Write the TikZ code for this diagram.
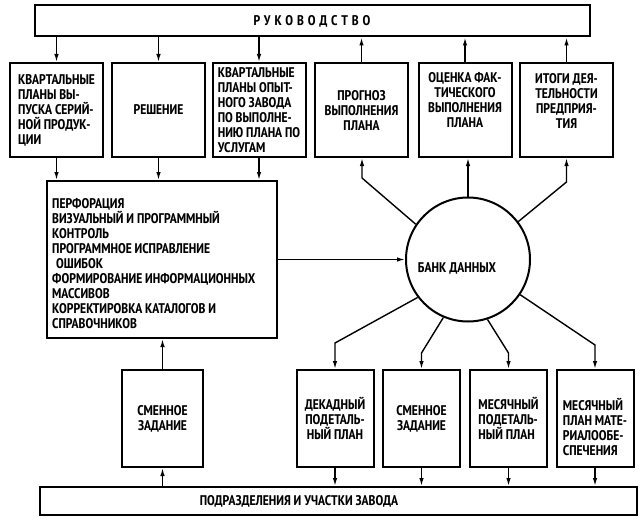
\documentclass[tikz,border=0pt]{standalone}
\usepackage{fontspec}
\setmainfont{PT Sans Narrow}
\usetikzlibrary{arrows.meta}

\tikzset{
  box/.style={draw, line width=2pt, inner sep=0pt,
    font=\bfseries\fontsize{14}{15}\selectfont},
  lbl/.style={inner sep=0pt, font=\bfseries\fontsize{14}{15}\selectfont},
  arr/.style={line width=1.4pt, -{Latex[length=8pt,width=4.5pt]}},
  topbox/.style={box, minimum width=93pt, minimum height=94pt},
  lowbox/.style={box, minimum width=77pt, minimum height=97pt},
}

\begin{document}
\begin{tikzpicture}[x=1pt,y=-1pt]
\useasboundingbox (0,0) rectangle (640,519);

% management strip
\node[box, minimum width=555pt, minimum height=31pt] (R) at (312.5,21) {};
\node[lbl] (Rt) at (312,21) {\addfontfeatures{LetterSpace=28}РУКОВОДСТВО};

% upper row of documents
\node[topbox, align=left] (B1) at (56.5,110)
  {КВАРТАЛЬНЫЕ\\ПЛАНЫ ВЫ-\\ПУСКА СЕРИЙ-\\НОЙ ПРОДУК-\\ЦИИ};
\node[topbox] (B2) at (158.5,110) {РЕШЕНИЕ};
\node[topbox, align=left] (B3) at (259,110)
  {КВАРТАЛЬНЫЕ\\ПЛАНЫ ОПЫТ-\\НОГО ЗАВОДА\\ПО ВЫПОЛНЕ-\\НИЮ ПЛАНА ПО\\УСЛУГАМ};
\node[topbox] (B4) at (361.5,110) {};
\node[lbl, align=center] (B4t) at (361.5,111) {ПРОГНОЗ\\ВЫПОЛНЕНИЯ\\ПЛАНА};
\node[topbox] (B5) at (465,110) {};
\node[lbl, align=center] (B5t) at (465,100) {ОЦЕНКА ФАК-\\ТИЧЕСКОГО\\ВЫПОЛНЕНИЯ\\ПЛАНА};
\node[topbox] (B6) at (566.5,110) {};
\node[lbl, align=center] (B6t) at (566.5,101) {ИТОГИ ДЕЯ-\\ТЕЛЬНОСТИ\\ПРЕДПРИЯ-\\ТИЯ};

% data preparation block
\node[box, minimum width=230pt, minimum height=157pt] (M) at (162,259.5) {};
\node[lbl, align=left, anchor=west] (Mt) at (52,264)
  {ПЕРФОРАЦИЯ\\ВИЗУАЛЬНЫЙ И ПРОГРАММНЫЙ\\КОНТРОЛЬ\\ПРОГРАММНОЕ ИСПРАВЛЕНИЕ\\
   \hspace*{4pt}ОШИБОК\\ФОРМИРОВАНИЕ ИНФОРМАЦИОННЫХ\\МАССИВОВ\\
   КОРРЕКТИРОВКА КАТАЛОГОВ И\\СПРАВОЧНИКОВ};

% data bank
\node[draw, circle, line width=2pt, minimum size=124pt, inner sep=0pt] (D) at (468,259.5) {};
\node[lbl] (Dt) at (457,268) {БАНК ДАННЫХ};

% lower row of documents
\node[box, minimum width=81pt, minimum height=97pt, align=center] (C1) at (162.5,418.5)
  {СМЕННОЕ\\ЗАДАНИЕ};
\node[lowbox, align=center] (C2) at (335,418.5) {ДЕКАДНЫЙ\\ПОДЕТАЛЬ-\\НЫЙ ПЛАН};
\node[lowbox, align=center] (C3) at (421.5,418.5) {СМЕННОЕ\\ЗАДАНИЕ};
\node[lowbox, align=left] (C4) at (508.5,418.5) {МЕСЯЧНЫЙ\\ПОДЕТАЛЬ-\\НЫЙ ПЛАН};
\node[lowbox] (C5) at (595,418.5) {};
\node[lbl, align=left] (C5t) at (595,427) {МЕСЯЧНЫЙ\\ПЛАН МАТЕ-\\РИАЛООБЕ-\\СПЕЧЕНИЯ};

% plant departments strip
\node[box, minimum width=597pt, minimum height=28pt] (P) at (338.5,501) {};
\node[lbl] (Pt) at (299,501) {ПОДРАЗДЕЛЕНИЯ И УЧАСТКИ ЗАВОДА};

% bend points of the data bank links
\coordinate (k4) at (362,178);
\coordinate (k6) at (566.5,182);
\coordinate (q2) at (335,343);
\coordinate (q3) at (421.5,353);
\coordinate (q4) at (508.5,353);
\coordinate (q5) at (595,345);

% management to upper documents and back
\foreach \b in {B1,B2,B3}
  \draw[arr] (R.south -| \b.north) -- (\b.north);
\foreach \b in {B4,B5,B6}
  \draw[arr] (\b.north) -- (\b.north |- R.south);

% upper documents into preparation block
\foreach \b in {B1,B2,B3}
  \draw[arr] (\b.south) -- (\b.south |- M.north);

% preparation block into data bank
\draw[arr] (M.east) -- (D.west);

% data bank to the reports
\draw[arr] (D.146) -- (k4) -- (k4 |- B4.south);
\draw[arr] (D.north) -- (D.north |- B5.south);
\draw[arr] (D.37) -- (k6) -- (k6 |- B6.south);

% data bank to the plans
\draw[arr] (D.217) -- (q2) -- (q2 |- C2.north);
\draw[arr] (D.247) -- (q3) -- (q3 |- C3.north);
\draw[arr] (D.288) -- (q4) -- (q4 |- C4.north);
\draw[arr] (D.326) -- (q5) -- (q5 |- C5.north);

% plans to the plant departments
\foreach \c in {C2,C3,C4,C5}
  \draw[arr] (\c.south) -- (\c.south |- P.north);

% shift task loop
\draw[arr] (P.north -| C1.south) -- (C1.south);
\draw[arr] (C1.north) -- (C1.north |- M.south);
\end{tikzpicture}
\end{document}
